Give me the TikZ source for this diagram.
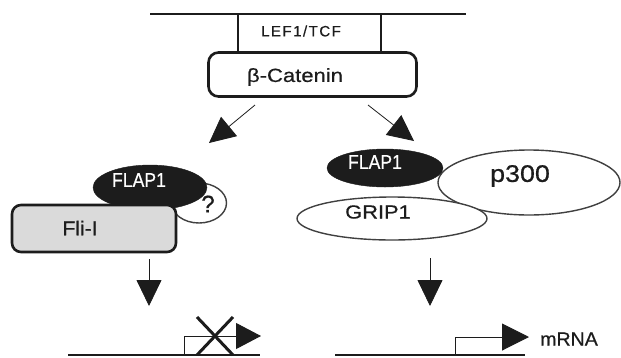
\documentclass[tikz,border=0pt]{standalone}
\usepackage{fontspec}
\usepackage{graphicx}
\setmainfont{Liberation Sans}[FakeBold=0.6]
\usetikzlibrary{arrows.meta,shapes.geometric}
\definecolor{ink}{HTML}{1C1C1C}
\definecolor{rim}{HTML}{404040}
\definecolor{fligray}{HTML}{DADADA}
\newcommand\widen[2]{\scalebox{#1}[1]{#2}}
\tikzset{
  thinline/.style={draw=ink, line width=1.3pt},
  heavybox/.style={draw=ink, line width=2.6pt, rounded corners=10pt},
  blackoval/.style={ellipse, fill=ink, draw=ink, inner sep=0pt},
  whiteoval/.style={ellipse, fill=white, draw=rim, line width=1.4pt, inner sep=0pt},
  lbl/.style={text=ink, inner sep=0pt},
  headarrow/.style={draw=ink, line width=0.8pt, -{Triangle[length=26pt,width=25pt]}},
}
\begin{document}
\begin{tikzpicture}[x=1pt,y=-1pt]
\useasboundingbox (0,0) rectangle (621,357);

% membrane-like top line and the LEF1/TCF box hanging from it
\coordinate (topL) at (150,14);
\coordinate (topR) at (466,14);
\draw[thinline, line width=1.6pt] (topL) -- (topR);
\draw[thinline, line width=1.1pt] (238,14) -- (238,52);
\draw[thinline, line width=1.1pt] (381,14) -- (381,52);
\node[lbl, font=\fontsize{15}{15}\selectfont\addfontfeature{LetterSpace=10}] (lef) at (301,31) {LEF1/TCF};

% beta-catenin
\node[heavybox, minimum width=208pt, minimum height=44pt, inner sep=0pt] (cat) at (312.5,74.5) {};
\node[lbl, font=\fontsize{19}{19}\selectfont] (cattxt) at (295,77) {\widen{1.16}{β-Catenin}};

% branch arrows
\coordinate (catL) at (255,105);
\coordinate (catR) at (368,105);
\coordinate (tipL) at (209,143);
\coordinate (tipR) at (414,141);
\draw[headarrow] (catL) -- (tipL);
\draw[headarrow] (catR) -- (tipR);

% left complex: FLAP1 + Fli-I + unknown partner
\node[whiteoval, minimum width=55pt, minimum height=40pt] (unk) at (199,203) {};
\node[blackoval, minimum width=114pt, minimum height=45pt] (flapL) at (150,187.5) {};
\node[lbl, font=\fontsize{24}{24}\selectfont] (unktxt) at (208,204) {?};
\node[lbl, text=white, font=\fontsize{20}{20}\selectfont] (flapLtxt) at (139,180) {\widen{0.88}{FLAP1}};
\node[heavybox, rounded corners=9pt, fill=fligray, minimum width=164pt, minimum height=47pt, inner sep=0pt] (fli) at (94,228.5) {};
\node[lbl, font=\fontsize{20}{20}\selectfont] (flitxt) at (80,228) {\widen{1.05}{Fli-I}};

% right complex: p300 + GRIP1 + FLAP1
\node[whiteoval, minimum width=182pt, minimum height=65pt] (p300) at (529,182.5) {};
\node[lbl, font=\fontsize{24}{24}\selectfont] (p300txt) at (520,176) {\widen{1.12}{p300}};
\node[whiteoval, minimum width=190pt, minimum height=43pt] (grip) at (392,218.5) {};
\node[lbl, font=\fontsize{19}{19}\selectfont] (griptxt) at (378,212) {\widen{1.15}{GRIP1}};
\node[blackoval, minimum width=116pt, minimum height=38pt] (flapR) at (385,168) {};
\node[lbl, text=white, font=\fontsize{20}{20}\selectfont] (flapRtxt) at (375,162) {\widen{0.88}{FLAP1}};

% downward arrows
\coordinate (downL) at (149,306);
\coordinate (downR) at (430,306);
\draw[headarrow] (fli.south -| downL) ++(0,6) -- (downL);
\draw[headarrow] (430,258) -- (downR);

% repressed gene
\coordinate (geneLa) at (68,355);
\coordinate (geneLb) at (260,355);
\coordinate (tssL) at (184,355);
\coordinate (endL) at (261,336);
\draw[thinline] (geneLa) -- (geneLb);
\draw[thinline, line width=1pt, -{Triangle[length=25pt,width=26pt]}] (tssL) |- (endL);
\draw[ink, line width=3pt] (197,317) -- (233,355) (197,355) -- (233,317);

% active gene
\coordinate (geneRa) at (335,355);
\coordinate (geneRb) at (525,355);
\coordinate (tssR) at (455,355);
\coordinate (endR) at (529,337);
\draw[thinline] (geneRa) -- (geneRb);
\draw[thinline, line width=1pt, -{Triangle[length=27pt,width=27pt]}] (tssR) |- (endR);
\node[lbl, font=\fontsize{19}{19}\selectfont, anchor=west] (mrna) at (540,339) {\widen{1.03}{mRNA}};
\end{tikzpicture}
\end{document}
